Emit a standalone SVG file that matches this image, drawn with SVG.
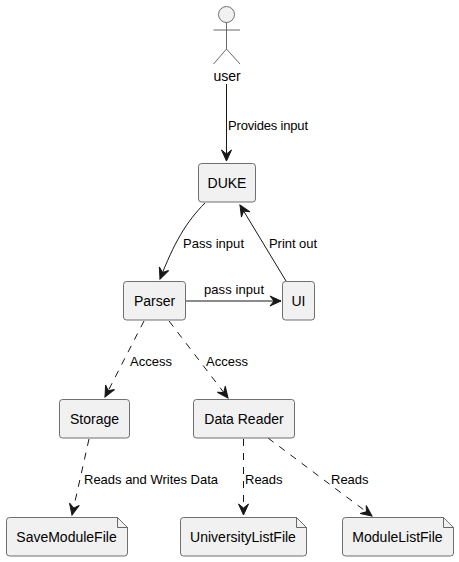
<svg xmlns="http://www.w3.org/2000/svg" width="459" height="562" viewBox="0 0 459 562">
<style>
text{font-family:"Liberation Sans",Arial,sans-serif;font-size:13px;fill:#000}
.n{font-size:14px;text-anchor:middle}
.b{fill:#f1f1f1;stroke:#5f5f5f;stroke-width:.9}
.a{fill:none;stroke:#595959;stroke-width:.9}
.c{fill:none;stroke:#181818;stroke-width:1}
.d{stroke-dasharray:7 7}
.h{fill:#181818;stroke:#181818;stroke-width:1}
</style>
<defs><marker id="ah" markerUnits="userSpaceOnUse" markerWidth="14" markerHeight="12" refX="11" refY="5" orient="auto" overflow="visible"><path class="h" d="M0 0L11 5L0 10L4 5Z"/></marker></defs>
<rect width="459" height="562" fill="#fff"/>
<g id="connectors">
<path class="c" d="M226.500 84V161" marker-end="url(#ah)"/>
<path class="c" d="M205 203C186 222 174 243 160 279" marker-end="url(#ah)"/>
<path class="c" d="M186 301H281" marker-end="url(#ah)"/>
<path class="c" d="M286 281L240 205" marker-end="url(#ah)"/>
<path class="c d" d="M144 321L105 397" marker-end="url(#ah)"/>
<path class="c d" d="M169 321L228 398" marker-end="url(#ah)"/>
<path class="c d" d="M89 439L72 515" marker-end="url(#ah)"/>
<path class="c d" d="M243.500 439V515" marker-end="url(#ah)"/>
<path class="c d" d="M268 438L372 516" marker-end="url(#ah)"/>
</g>
<g id="labels">
<text x="228" y="130" textLength="80">Provides input</text>
<text x="183" y="248" textLength="61">Pass input</text>
<text x="269" y="248" textLength="48">Print out</text>
<text x="204" y="294" textLength="60">pass input</text>
<text x="130" y="366">Access</text>
<text x="206" y="366">Access</text>
<text x="84" y="484" textLength="134">Reads and Writes Data</text>
<text x="245" y="484">Reads</text>
<text x="331" y="484">Reads</text>
</g>
<g id="user">
<circle cx="226.500" cy="14.500" r="8" fill="#f1f1f1" stroke="#5f5f5f" stroke-width=".9"/>
<path class="a" d="M226.500 22.500V49M213.500 30H240M226.500 49L213.500 64M226.500 49L240 64"/>
<text class="n" x="227" y="81">user</text>
</g>
<g id="duke"><rect class="b" x="198.500" y="163.500" width="57" height="38.500" rx="3"/><text class="n" x="227" y="188">DUKE</text></g>
<g id="parser"><rect class="b" x="123.500" y="281.500" width="62" height="38.500" rx="3"/><text class="n" x="154.500" y="306">Parser</text></g>
<g id="ui"><rect class="b" x="282.500" y="281.500" width="32" height="38.500" rx="3"/><text class="n" x="298.500" y="306">UI</text></g>
<g id="storage"><rect class="b" x="59.500" y="399.500" width="70" height="38.500" rx="3"/><text class="n" x="94.500" y="424">Storage</text></g>
<g id="data-reader"><rect class="b" x="193.500" y="399.500" width="101" height="38.500" rx="3"/><text class="n" x="244" y="424">Data Reader</text></g>
<g id="save-module-file"><path class="b" d="M9.500 517.500H117.500L127.500 527.500V553A3 3 0 0 1 124.500 556H9.500A3 3 0 0 1 6.500 553V520.500A3 3 0 0 1 9.500 517.500Z"/><path class="a" d="M117.500 517.500V527.500H127.500"/><text class="n" x="66.500" y="542">SaveModuleFile</text></g>
<g id="university-list-file"><path class="b" d="M183.500 517.500H296.500L306.500 527.500V553A3 3 0 0 1 303.500 556H183.500A3 3 0 0 1 180.500 553V520.500A3 3 0 0 1 183.500 517.500Z"/><path class="a" d="M296.500 517.500V527.500H306.500"/><text class="n" x="243" y="542">UniversityListFile</text></g>
<g id="module-list-file"><path class="b" d="M345.500 517.500H443.500L453.500 527.500V553A3 3 0 0 1 450.500 556H345.500A3 3 0 0 1 342.500 553V520.500A3 3 0 0 1 345.500 517.500Z"/><path class="a" d="M443.500 517.500V527.500H453.500"/><text class="n" x="397.500" y="542">ModuleListFile</text></g>
</svg>
